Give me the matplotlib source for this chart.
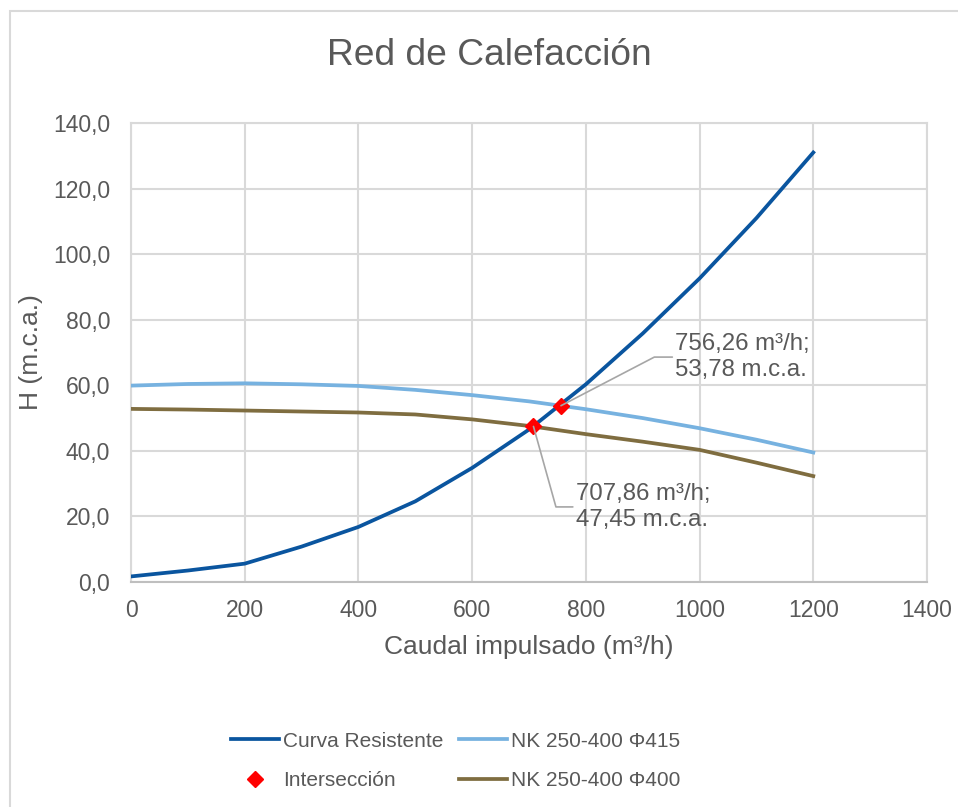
import matplotlib
matplotlib.use("Agg")
import matplotlib.pyplot as plt
from matplotlib.patches import Rectangle
from matplotlib.ticker import FuncFormatter

plt.rcParams['font.family'] = ['Liberation Sans', 'DejaVu Sans']

# caudal (m3/h) and heads (m.c.a.)
q_curva = [0, 100, 200, 300, 400, 500, 600, 700, 800, 900, 1000, 1100, 1200]
h_curva = [1.7, 3.5, 5.6, 10.8, 16.8, 24.6, 34.8, 46.5, 60.3, 75.8, 92.6, 111.0, 131.0]

q_415 = [0, 100, 200, 300, 400, 500, 600, 700, 800, 900, 1000, 1100, 1200]
h_415 = [59.9, 60.4, 60.6, 60.3, 59.8, 58.6, 57.0, 55.1, 52.7, 50.0, 46.9, 43.4, 39.5]

q_400 = [0, 100, 200, 300, 400, 500, 600, 700, 800, 900, 1000, 1100, 1200]
h_400 = [52.8, 52.6, 52.3, 52.0, 51.7, 51.1, 49.6, 47.6, 45.1, 42.8, 40.3, 36.4, 32.3]

q_int = [707.86, 756.26]
h_int = [47.45, 53.78]

gray = '#595959'
grid_c = '#d9d9d9'

fig = plt.figure(figsize=(9.58, 8.07), dpi=100)
ax = fig.add_axes([131/958, 1 - 582/807, 796/958, 459/807])

l1, = ax.plot(q_curva, h_curva, color='#0a559f', lw=2.7, label='Curva Resistente', zorder=3)
l2, = ax.plot(q_415, h_415, color='#77b2e0', lw=2.7, label='NK 250-400 \u03a6415', zorder=3)
l3, = ax.plot(q_400, h_400, color='#7f6d40', lw=2.7, label='NK 250-400 \u03a6400', zorder=3)
pts, = ax.plot(q_int, h_int, 'D', color='#ff0000', ms=8.5, label='Intersecci\u00f3n',
               zorder=4, linestyle='none')

ax.set_xlim(0, 1400)
ax.set_ylim(0, 140)
ax.set_xticks(range(0, 1401, 200))
ax.set_yticks(range(0, 141, 20))
ax.yaxis.set_major_formatter(FuncFormatter(lambda v, p: ('%.1f' % v).replace('.', ',')))
ax.grid(True, color=grid_c, lw=1.5, zorder=0)
for s in ax.spines.values():
    s.set_color(grid_c)
    s.set_linewidth(1.5)
ax.spines['bottom'].set_color('#bfbfbf')
ax.tick_params(length=0, labelsize=16.5, labelcolor=gray)
ax.tick_params(axis='x', pad=12)
ax.tick_params(axis='y', pad=15)

# data labels at the intersections
labels = ['707,86 m\u00b3/h;\n47,45 m.c.a.', '756,26 m\u00b3/h;\n53,78 m.c.a.']
text_pos = [(782, 22.9), (957, 68.6)]
angles = [-74.4, 27.5]
for q, h, lab, tp, ang in zip(q_int, h_int, labels, text_pos, angles):
    ax.annotate(lab, xy=(q, h), xytext=tp, ha='left', va='center', fontsize=17.3,
                color=gray, linespacing=1.25, zorder=5,
                arrowprops=dict(arrowstyle='-', color='#a6a6a6', lw=1.2, shrinkA=0, shrinkB=0,
                                relpos=(0, 0.5),
                                connectionstyle='angle,angleA=0,angleB=%s,rad=0' % ang))

fig.text(489/958, 1 - 65/807, 'Red de Calefacci\u00f3n', ha='center', va='baseline',
         fontsize=26.7, color=gray)
fig.text(31/958, 1 - 352/807, 'H (m.c.a.)', rotation=90, ha='center', va='center',
         fontsize=19, color=gray)
fig.text(529/958, 1 - 647/807, 'Caudal impulsado (m\u00b3/h)', ha='center', va='center',
         fontsize=19, color=gray)

leg = fig.legend([l1, pts, l2, l3],
                 ['Curva Resistente', 'Intersecci\u00f3n', 'NK 250-400 \u03a6415', 'NK 250-400 \u03a6400'],
                 ncol=2, loc='center', bbox_to_anchor=(456/958, 1 - 761/807), frameon=False,
                 fontsize=15, handlelength=2.3, handletextpad=0.2, columnspacing=0.75,
                 labelspacing=1.0)
for t in leg.get_texts():
    t.set_color(gray)

# chart area border
fig.patches.append(Rectangle((9.5/958, -0.1), 1.2, 1.1 - 10.5/807, transform=fig.transFigure,
                             fill=False, edgecolor=grid_c, lw=1.5))

fig.savefig('out.png', dpi=100)
